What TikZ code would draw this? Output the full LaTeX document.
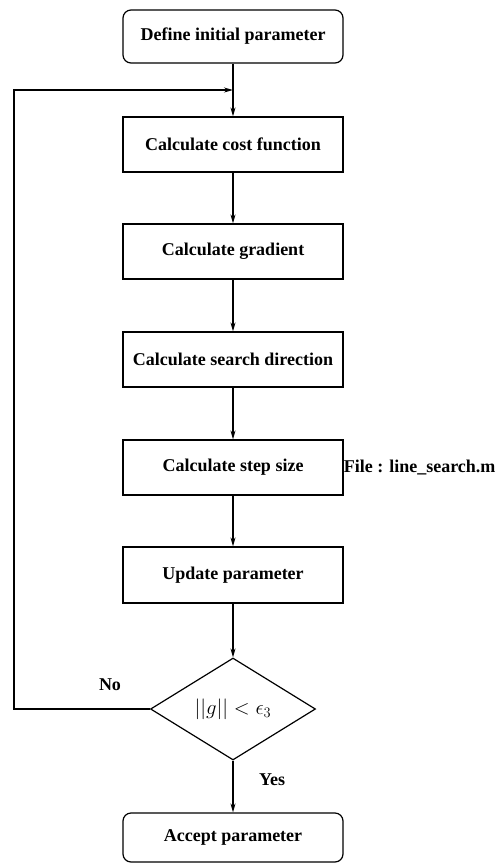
\documentclass[tikz,border=0pt]{standalone}
\usepackage{fontspec}
\setmainfont{Liberation Serif}
\usetikzlibrary{shapes.geometric,arrows.meta}
\begin{document}
\begin{tikzpicture}[x=1pt,y=-1pt,
  font=\fontsize{18}{21}\selectfont\bfseries,
  every node/.style={inner sep=0pt},
  proc/.style={draw,line width=1.2pt,minimum width=220pt,minimum height=55pt},
  term/.style={proc,rounded corners=8pt},
  decide/.style={draw,line width=1.2pt,diamond,minimum width=165pt,minimum height=102pt,aspect=1.62},
  arr/.style={line width=1.2pt,-{Stealth[length=9pt,width=5pt]}},
  lbl/.style={font=\fontsize{18}{21}\selectfont\bfseries}]
\useasboundingbox (0,0) rectangle (501,863);
\node[term,minimum height=53pt] (def) at (233,36.5) {Define initial parameter};
\node[proc] (cost) at (233,144.5) {Calculate cost function};
\node[proc] (grad) at (233,251.5) {Calculate gradient};
\node[proc] (dir) at (233,359.5) {Calculate search direction};
\node[proc] (step) at (233,467.5) {Calculate step size};
\node[proc,minimum height=56pt] (upd) at (233,575) {Update parameter};
\node[decide] (dec) at (233,709) {\fontsize{21}{24}\selectfont\mdseries$||g|| < \epsilon_3$};
\node[term,minimum height=49pt] (acc) at (233,837.5) {Accept parameter};
\node[lbl,anchor=west] (file) at (step.east) {File : line\_search.m};
\node[lbl] (no) at (110,685) {No};
\node[lbl] (yes) at (272,780) {Yes};
\coordinate (j) at (233,90);
\coordinate (lc) at (14,90);
\draw[arr] (def.south) -- (cost.north);
\draw[arr] (cost.south) -- (grad.north);
\draw[arr] (grad.south) -- (dir.north);
\draw[arr] (dir.south) -- (step.north);
\draw[arr] (step.south) -- (upd.north);
\draw[arr] (upd.south) -- (dec.north);
\draw[arr] (dec.south) -- (acc.north);
\draw[arr] (dec.west) -| (lc) -- (j);
\end{tikzpicture}
\end{document}
